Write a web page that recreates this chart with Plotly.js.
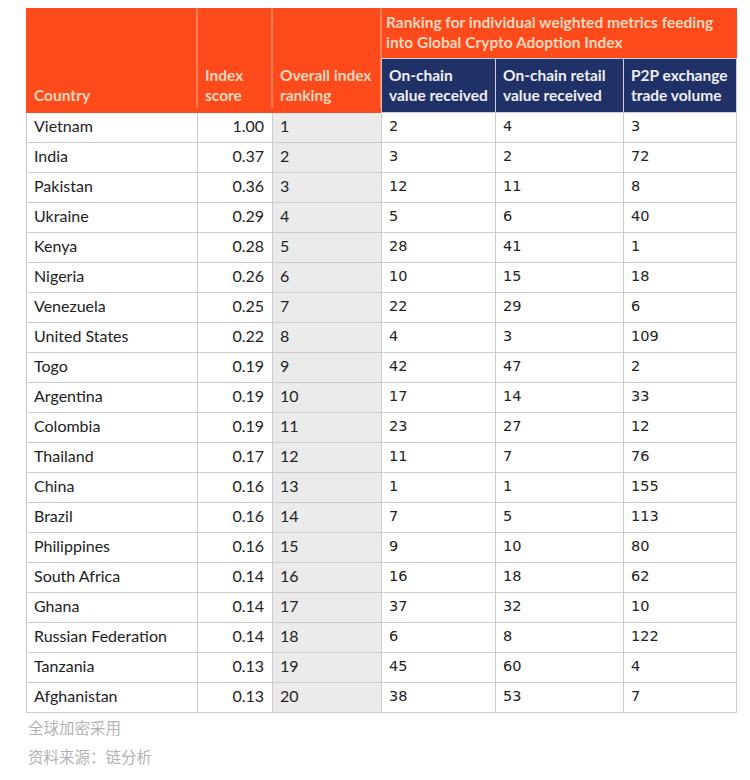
<!DOCTYPE html>
<html>
<head>
<meta charset="utf-8">
<script src="https://cdn.plot.ly/plotly-3.0.1.min.js"></script>
<style>html,body{margin:0;padding:0;background:#fff;}#chart{width:750px;height:780px;}</style>
</head>
<body>
<div id="chart"></div>
<script>
const countries = ["Vietnam","India","Pakistan","Ukraine","Kenya","Nigeria","Venezuela","United States","Togo","Argentina","Colombia","Thailand","China","Brazil","Philippines","South Africa","Ghana","Russian Federation","Tanzania","Afghanistan"];
const indexScore = ["1.00","0.37","0.36","0.29","0.28","0.26","0.25","0.22","0.19","0.19","0.19","0.17","0.16","0.16","0.16","0.14","0.14","0.14","0.13","0.13"];
const overallRank = [1,2,3,4,5,6,7,8,9,10,11,12,13,14,15,16,17,18,19,20];
const onchainValue = [2,3,12,5,28,10,22,4,42,17,23,11,1,7,9,16,37,6,45,38];
const onchainRetail = [4,2,11,6,41,15,29,3,47,14,27,7,1,5,10,18,32,8,60,53];
const p2pVolume = [3,72,8,40,1,18,6,109,2,33,12,76,155,113,80,62,10,122,4,7];
const columnHeaders = ["\u00a0<br>Country","Index<br>score","Overall index<br>ranking","On-chain<br>value received","On-chain retail<br>value received","P2P exchange<br>trade volume"];
const groupHeader = "Ranking for individual weighted metrics feeding<br>into Global Crypto Adoption Index";
const footnotes = ["全球加密采用","资料来源：链分析"];

(function () {
const ORANGE = "#ff4a1c", NAVY = "#1f3166", GRID = "#cccccc", GRAYCOL = "#ebebeb";
const SEP = "#f8b08f";
const W = 750, H = 780;
const tLeft = 26, tRight = 736, tTop = 8, hdrH = 50;
const colW = [171, 75, 109, 114, 128, 113];

const peach = "#fdd9bf";
const hdrFill = [[ORANGE, ORANGE],[ORANGE, ORANGE],[ORANGE, ORANGE],[ORANGE, NAVY],[ORANGE, NAVY],[ORANGE, NAVY]];
const hdrFontColor = [[peach,peach],[peach,peach],[peach,peach],[peach,"#eef0f6"],[peach,"#eef0f6"],[peach,"#eef0f6"]];
const hdrLine = [[ORANGE,ORANGE],[ORANGE,ORANGE],[ORANGE,ORANGE],[ORANGE,"#c9cfdc"],[ORANGE,"#c9cfdc"],[ORANGE,"#c9cfdc"]];

const n = countries.length;
const cellFill = [Array(n).fill("#ffffff"),Array(n).fill("#ffffff"),Array(n).fill(GRAYCOL),Array(n).fill("#ffffff"),Array(n).fill("#ffffff"),Array(n).fill("#ffffff")];

const trace = {
  type: "table",
  domain: {x: [tLeft/W, tRight/W], y: [0.02, 1 - tTop/H]},
  columnwidth: colW,
  header: {
    values: columnHeaders.map(h => ["", h]),
    align: "left",
    height: hdrH,
    fill: {color: hdrFill},
    line: {color: hdrLine, width: 1},
    font: {family: "Lato, 'Open Sans', sans-serif", size: 15.5, color: hdrFontColor, weight: 700}
  },
  cells: {
    values: [countries, indexScore, overallRank, onchainValue, onchainRetail, p2pVolume],
    align: ["left","right","left","left","left","left"],
    height: 30,
    fill: {color: cellFill},
    line: {color: GRID, width: 1},
    font: {
      family: ["Lato, sans-serif","Lato, sans-serif","Lato, sans-serif","DejaVu Sans, Verdana, sans-serif","DejaVu Sans, Verdana, sans-serif","DejaVu Sans, Verdana, sans-serif"],
      size: [16,16,16,14.5,14.5,14.5],
      color: "#222222"
    }
  }
};

// vertical separators inside the orange header block (cols 1-3 and the boundary to the group)
const shapes = [];
let acc = tLeft;
for (let i = 0; i < 3; i++) {
  acc += colW[i];
  shapes.push({type: "line", xref: "paper", yref: "paper", layer: "above",
    x0: acc/W, x1: acc/W, y0: 1 - tTop/H, y1: 1 - (tTop + 2*hdrH)/H,
    line: {color: SEP, width: 1}});
}

const groupX = (tLeft + colW[0] + colW[1] + colW[2] + 3) / W;
const layout = {
  width: W, height: H,
  margin: {l: 0, r: 0, t: 0, b: 0},
  paper_bgcolor: "#ffffff",
  showlegend: false,
  shapes: shapes,
  annotations: [
    {text: groupHeader, xref: "paper", yref: "paper", x: groupX, y: 1 - 11/H, xanchor: "left", yanchor: "top",
     align: "left", showarrow: false, font: {family: "Lato, sans-serif", size: 15.5, color: peach, weight: 700}},
    {text: footnotes[0], xref: "paper", yref: "paper", x: tLeft/W, y: 1 - 727/H, xanchor: "left", yanchor: "middle",
     showarrow: false, font: {family: "'Noto Sans CJK SC', sans-serif", size: 15.5, color: "#b3b3b3"}},
    {text: footnotes[1], xref: "paper", yref: "paper", x: tLeft/W, y: 1 - 756/H, xanchor: "left", yanchor: "middle",
     showarrow: false, font: {family: "'Noto Sans CJK SC', sans-serif", size: 15.5, color: "#b3b3b3"}}
  ]
};

Plotly.newPlot("chart", [trace], layout, {displayModeBar: false, staticPlot: true});
})();
</script>
</body>
</html>
